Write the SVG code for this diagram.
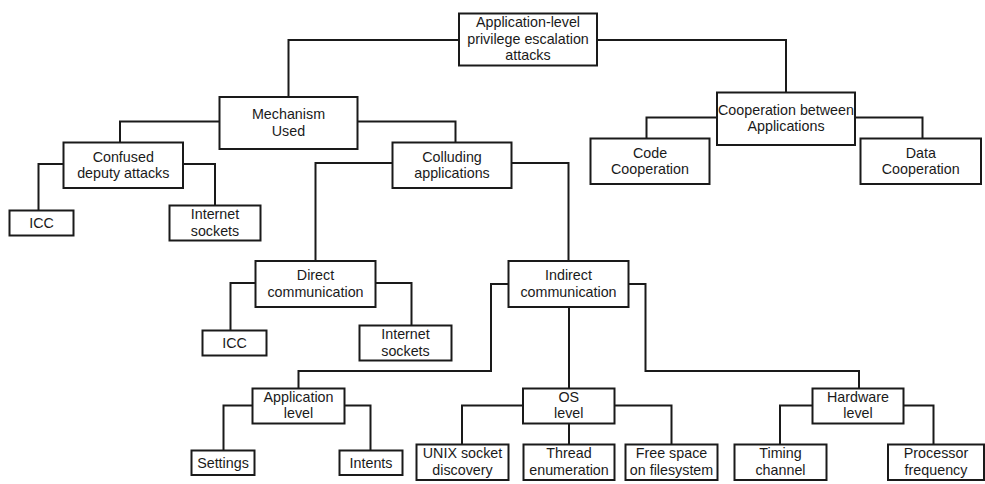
<svg xmlns="http://www.w3.org/2000/svg" width="985" height="484" viewBox="0 0 985 484">
<style>
.box rect{fill:#fff;stroke:#1a1a1a;stroke-width:2}
.box text{font-family:"Liberation Sans",Arial,sans-serif;font-size:14.3px;fill:#1a1a1a;text-anchor:middle}
#connectors path{fill:none;stroke:#1a1a1a;stroke-width:2}
</style>
<rect width="985" height="484" fill="#fff"/>
<g id="connectors">
<path d="M459,40 H288.5 V97"/>
<path d="M597,40 H786 V92.5"/>
<path d="M219.5,121.5 H120 V142.5"/>
<path d="M357.5,121.5 H455.5 V142.5"/>
<path d="M63.5,164 H38.5 V210.5"/>
<path d="M183,164 H215 V205.5"/>
<path d="M392.5,163 H315.5 V261"/>
<path d="M511.5,163 H568.5 V261"/>
<path d="M717,117.5 H646.5 V138.5"/>
<path d="M855,117.5 H922.5 V138.5"/>
<path d="M255.5,283 H230.5 V330.5"/>
<path d="M375.5,283 H411.5 V325.5"/>
<path d="M508.5,284 H491 V371 H298.5 V388.5"/>
<path d="M569,307 V388.5"/>
<path d="M628.5,284 H645.5 V371 H859 V388.5"/>
<path d="M252.5,405.5 H223.5 V450.5"/>
<path d="M344.5,405.5 H370.5 V450.5"/>
<path d="M523,405.5 H462 V444.5"/>
<path d="M569,423.5 V444.5"/>
<path d="M614.5,405.5 H671.5 V444.5"/>
<path d="M812.5,405.5 H780 V444.5"/>
<path d="M903.5,405.5 H933.5 V444.5"/>
</g>
<g id="root" class="box"><rect x="459" y="13.5" width="138" height="52"/><text x="528" y="27">Application-level</text><text x="528" y="43.5">privilege escalation</text><text x="528" y="60">attacks</text></g>
<g id="mechanism" class="box"><rect x="219.5" y="97" width="138" height="52"/><text x="288.5" y="119">Mechanism</text><text x="288.5" y="135.5">Used</text></g>
<g id="confused" class="box"><rect x="63.5" y="142.5" width="119.5" height="45.5"/><text x="123.25" y="161.5">Confused</text><text x="123.25" y="178">deputy attacks</text></g>
<g id="icc1" class="box"><rect x="9.5" y="210.5" width="64" height="25"/><text x="41.5" y="228">ICC</text></g>
<g id="inet1" class="box"><rect x="169.5" y="205.5" width="91" height="35"/><text x="215" y="219">Internet</text><text x="215" y="235.5">sockets</text></g>
<g id="colluding" class="box"><rect x="392.5" y="142.5" width="119" height="45.5"/><text x="452" y="161.5">Colluding</text><text x="452" y="178">applications</text></g>
<g id="cooperation" class="box"><rect x="717" y="92.5" width="138" height="52.5"/><text x="786" y="114.5">Cooperation between</text><text x="786" y="131">Applications</text></g>
<g id="code" class="box"><rect x="590.5" y="138.5" width="119" height="45.5"/><text x="650" y="157.5">Code</text><text x="650" y="174">Cooperation</text></g>
<g id="data" class="box"><rect x="860.5" y="138.5" width="120.5" height="45.5"/><text x="920.75" y="157.5">Data</text><text x="920.75" y="174">Cooperation</text></g>
<g id="direct" class="box"><rect x="255.5" y="261" width="120" height="46"/><text x="315.5" y="280">Direct</text><text x="315.5" y="296.5">communication</text></g>
<g id="icc2" class="box"><rect x="202.5" y="330.5" width="64" height="25"/><text x="234.5" y="348">ICC</text></g>
<g id="inet2" class="box"><rect x="359.5" y="325.5" width="92" height="35"/><text x="405.5" y="339">Internet</text><text x="405.5" y="355.5">sockets</text></g>
<g id="indirect" class="box"><rect x="508.5" y="261" width="120" height="46"/><text x="568.5" y="280">Indirect</text><text x="568.5" y="296.5">communication</text></g>
<g id="applevel" class="box"><rect x="252.5" y="388.5" width="92" height="35"/><text x="298.5" y="401.5">Application</text><text x="298.5" y="418">level</text></g>
<g id="settings" class="box"><rect x="191.5" y="450.5" width="63" height="24.5"/><text x="223" y="467.5">Settings</text></g>
<g id="intents" class="box"><rect x="339.5" y="450.5" width="63" height="24.5"/><text x="371" y="467.5">Intents</text></g>
<g id="oslevel" class="box"><rect x="523" y="388.5" width="91.5" height="35"/><text x="568.75" y="401.5">OS</text><text x="568.75" y="418">level</text></g>
<g id="unix" class="box"><rect x="416.5" y="444.5" width="92" height="35.5"/><text x="462.5" y="458">UNIX socket</text><text x="462.5" y="474.5">discovery</text></g>
<g id="thread" class="box"><rect x="523.5" y="444.5" width="91" height="35.5"/><text x="569" y="458">Thread</text><text x="569" y="474.5">enumeration</text></g>
<g id="freespace" class="box"><rect x="625.5" y="444.5" width="92" height="35.5"/><text x="671.5" y="458">Free space</text><text x="671.5" y="474.5">on filesystem</text></g>
<g id="hwlevel" class="box"><rect x="812.5" y="388.5" width="91" height="35"/><text x="858" y="401.5">Hardware</text><text x="858" y="418">level</text></g>
<g id="timing" class="box"><rect x="734.5" y="444.5" width="92" height="35.5"/><text x="780.5" y="458">Timing</text><text x="780.5" y="474.5">channel</text></g>
<g id="processor" class="box"><rect x="888" y="444.5" width="96" height="35.5"/><text x="936" y="458">Processor</text><text x="936" y="474.5">frequency</text></g>
</svg>
